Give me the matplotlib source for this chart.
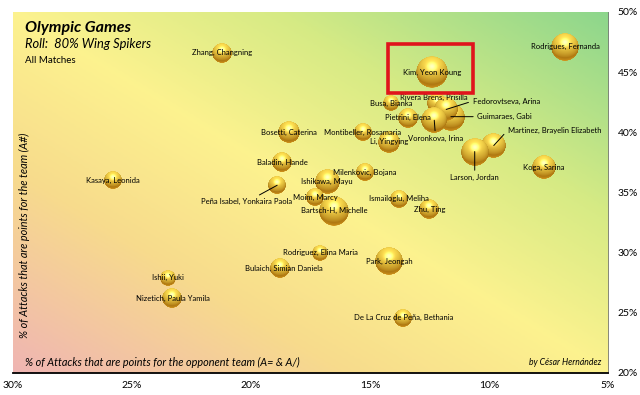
import numpy as np
import matplotlib
matplotlib.use("Agg")
from matplotlib import pyplot as plt
from matplotlib.offsetbox import OffsetImage, AnnotationBbox
from matplotlib.patches import Rectangle
from matplotlib.colors import LinearSegmentedColormap

plt.rcParams["font.family"] = ["Lato", "DejaVu Sans"]

# datos
jugadoras = ["Zhang, Changning", "Kasaya, Leonida", "Bosetti, Caterina", "Baladin, Hande",
             "Peña Isabel, Yonkaira Paola", "Ishikawa, Mayu", "Milenkovic, Bojana", "Moim, Marcy",
             "Bartsch-H, Michelle", "Ismailoglu, Meliha", "Zhu, Ting", "Montibeller, Rosamaria",
             "Li, Yingying", "Busa, Bianka", "Pietrini, Elena", "Rivera Brens, Prisilla",
             "Guimaraes, Gabi", "Fedorovtseva, Arina", "Voronkova, Irina", "Kim, Yeon Koung",
             "Rodrigues, Fernanda", "Martinez, Brayelin Elizabeth", "Larson, Jordan", "Koga, Sarina",
             "Park, Jeongah", "De La Cruz de Peña, Bethania", "Rodriguez, Elina Maria",
             "Bulaich, Simian Daniela", "Ishii, Yuki", "Nizetich, Paula Yamila"]
# % de ataques que son punto para el rival (A= & A/)
pct_rival = [21.2, 25.8, 18.4, 18.7, 18.9, 16.8, 15.2, 17.3, 16.5, 13.8, 12.5, 15.3,
             14.2, 14.1, 13.4, 12.2, 11.6, 11.8, 12.3, 12.4, 6.8, 9.8, 10.6, 7.7,
             14.2, 13.6, 17.1, 18.8, 23.5, 23.3]
# % de ataques que son punto para el equipo (A#)
pct_punto = [46.6, 36.0, 40.0, 37.5, 35.6, 35.9, 36.7, 34.6, 33.5, 34.5, 33.6, 40.0,
             39.2, 42.4, 41.2, 42.4, 41.3, 41.9, 41.0, 45.0, 47.1, 38.9, 38.4, 37.1,
             29.3, 24.6, 30.0, 28.7, 27.9, 26.2]
# numero de ataques (tamaño de la burbuja)
ataques = [100, 81, 121, 100, 81, 156, 81, 81, 225, 81, 100, 81,
           121, 64, 100, 100, 196, 144, 169, 256, 196, 156, 196, 137,
           196, 81, 64, 100, 64, 100]

xticks = [30, 25, 20, 15, 10, 5]
yticks = [20, 25, 30, 35, 40, 45, 50]

# etiquetas con linea guia: desplazamiento en puntos
guias = {"Peña Isabel, Yonkaira Paola": (-22, -12, "center"),
         "Fedorovtseva, Arina": (19, 6, "left"),
         "Guimaraes, Gabi": (19, 0, "left"),
         "Voronkova, Irina": (1, -13, "center"),
         "Martinez, Brayelin Elizabeth": (10, 11, "left"),
         "Larson, Jordan": (0, -19, "center")}
desplaz = {"Rivera Brens, Prisilla": (-2, 4), "Bulaich, Simian Daniela": (3, 0)}

fig = plt.figure(figsize=(6.4, 3.95), dpi=100)
ax = fig.add_axes([0.0203, 0.0557, 0.9297, 0.914])

# fondo degradado rojo -> amarillo -> verde
u, v = np.meshgrid(np.linspace(0, 1, 300), np.linspace(0, 1, 200))
t = 0.5 * u + 0.5 * v
cmap_fondo = LinearSegmentedColormap.from_list("fondo", [
    (0.0, (0.94, 0.71, 0.70)),
    (0.28, (0.97, 0.86, 0.55)),
    (0.5, (0.99, 0.95, 0.56)),
    (0.72, (0.84, 0.92, 0.52)),
    (1.0, (0.55, 0.84, 0.55))])
ax.imshow(t, cmap=cmap_fondo, origin="lower", extent=[0, 1, 0, 1],
          transform=ax.transAxes, aspect="auto", zorder=0, interpolation="bilinear")

# esfera dorada
N = 120
g = np.linspace(-1, 1, N)
gx, gy = np.meshgrid(g, -g)
r2 = gx ** 2 + gy ** 2
z = np.sqrt(np.clip(1 - r2, 0, 1))
L = np.array([0.0, 0.65, 0.76])
L = L / np.linalg.norm(L)
dif = np.clip(gx * L[0] + gy * L[1] + z * L[2], 0, 1)
H = L + np.array([0, 0, 1.0])
H = H / np.linalg.norm(H)
spec = np.clip(gx * H[0] + gy * H[1] + z * H[2], 0, 1) ** 25
oscuro = np.array([0.62, 0.42, 0.05])
claro = np.array([1.0, 0.88, 0.32])
col = oscuro + (claro - oscuro) * (dif[..., None] ** 0.85)
col = col + 0.45 * spec[..., None]
borde = np.clip(-gy, 0, 1) * (1 - z) * 0.25
col = col + borde[..., None] * np.array([1.0, 0.8, 0.3])
col = np.clip(col, 0, 1)
alfa = np.clip((1 - np.sqrt(r2)) * N / 2, 0, 1)
esfera = np.dstack([col, alfa])

for nombre, x, y, a in zip(jugadoras, pct_rival, pct_punto, ataques):
    diam = 2 * np.sqrt(a)  # pixeles
    img = OffsetImage(esfera, zoom=diam / N, dpi_cor=False, interpolation="antialiased")
    ab = AnnotationBbox(img, (x, y), frameon=False, zorder=3)
    ax.add_artist(ab)

for nombre, x, y in zip(jugadoras, pct_rival, pct_punto):
    if nombre in guias:
        dx, dy, ha = guias[nombre]
        rel = (0, 0.5) if ha == "left" else (0.5, 0.5)
        ax.annotate(nombre, (x, y), xytext=(dx, dy), textcoords="offset points",
                    ha=ha, va="center", fontsize=5.5, zorder=6,
                    arrowprops=dict(arrowstyle="-", color="black", lw=0.7,
                                    shrinkA=1, shrinkB=0, relpos=rel))
    else:
        dx, dy = desplaz.get(nombre, (0, 0))
        ax.annotate(nombre, (x, y), xytext=(dx, dy), textcoords="offset points",
                    ha="center", va="center", fontsize=5.5, zorder=6)

# recuadro rojo sobre Kim
ik = jugadoras.index("Kim, Yeon Koung")
ax.add_patch(Rectangle((pct_rival[ik] - 1.73, pct_punto[ik] - 1.73), 3.57, 4.07,
                       fill=False, edgecolor="#E0141C", lw=2.6, zorder=7))

ax.set_xlim(30, 5)
ax.set_ylim(20, 50)
ax.set_xticks(xticks)
ax.set_xticklabels(["{}%".format(i) for i in xticks])
ax.set_yticks(yticks)
ax.set_yticklabels(["{}%".format(i) for i in yticks])
ax.yaxis.tick_right()
ax.tick_params(length=0, labelsize=7.5)
ax.tick_params(axis="x", pad=6)
ax.tick_params(axis="y", pad=7)
for lado in ["top", "left"]:
    ax.spines[lado].set_visible(False)
ax.spines["bottom"].set_linewidth(1.3)
ax.spines["right"].set_linewidth(0.6)
ax.spines["right"].set_color("#777777")

# textos
ax.text(0.02, 0.955, "Olympic Games", transform=ax.transAxes, fontsize=11.5,
        fontweight="bold", style="italic", va="center", zorder=8)
ax.text(0.02, 0.91, "Roll:  80% Wing Spikers", transform=ax.transAxes, fontsize=9.3,
        style="italic", va="center", zorder=8)
ax.text(0.021, 0.866, "All Matches", transform=ax.transAxes, fontsize=7,
        va="center", zorder=8)
ax.text(0.02, 0.38, "% of Attacks that are points for the team (A#)", transform=ax.transAxes,
        fontsize=7.8, style="italic", rotation=90, ha="center", va="center", zorder=8)
ax.text(0.02, 0.028, "% of Attacks that are points for the opponent team (A= & A/)",
        transform=ax.transAxes, fontsize=7.8, style="italic", ha="left", va="center", zorder=8)
ax.text(0.989, 0.028, "by César Hernández", transform=ax.transAxes, fontsize=6.2,
        style="italic", ha="right", va="center", zorder=8)

plt.savefig("out.png", dpi=100)
